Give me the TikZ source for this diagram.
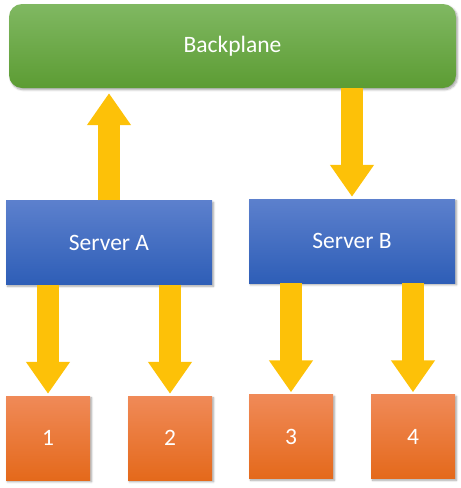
\documentclass[tikz,border=0pt]{standalone}
\usepackage{fontspec}
\setmainfont{Carlito}
\usetikzlibrary{arrows.meta,shadows.blur}
\definecolor{gtop}{HTML}{80B862}
\definecolor{gbot}{HTML}{5C9C33}
\definecolor{btop}{HTML}{5C80CD}
\definecolor{bbot}{HTML}{2E5EB7}
\definecolor{otop}{HTML}{F08A58}
\definecolor{obot}{HTML}{E4691B}
\definecolor{arrowc}{HTML}{FDC108}
\tikzset{
  boxbase/.style={inner sep=0pt, text=white, font=\fontsize{23.5}{28}\selectfont,
    blur shadow={shadow xshift=1.5pt, shadow yshift=-1.8pt, shadow blur steps=6, shadow opacity=35, shadow blur radius=2pt}},
  greenbox/.style={boxbase, rounded corners=13pt, top color=gtop, bottom color=gbot,
    minimum width=447pt, minimum height=84pt},
  bluebox/.style={boxbase, top color=btop, bottom color=bbot,
    minimum width=206pt, minimum height=84pt},
  orangebox/.style={boxbase, top color=otop, bottom color=obot,
    minimum width=84pt, minimum height=84pt},
  barrow/.style={draw=arrowc, line width=22pt,
    -{Triangle[width=42pt,length=32pt,fill=arrowc]}}
}
\begin{document}
\begin{tikzpicture}[x=1pt,y=-1pt]
\useasboundingbox (0,0) rectangle (461,488);
\node[greenbox] (bp) at (232.5,46) {Backplane};
\node[bluebox] (sa) at (109,242.5) {Server A};
\node[bluebox] (sb) at (352,241) {Server B};
\node[orangebox] (b1) at (48,438) {1};
\node[orangebox] (b2) at (170,438) {2};
\node[orangebox] (b3) at (291,436.5) {3};
\node[orangebox] (b4) at (413,436.5) {4};
\draw[barrow, shorten >=5pt] (sa.north) -- (sa.north |- bp.south);
\draw[barrow, shorten >=2pt] (sb.north |- bp.south) -- (sb.north);
\draw[barrow, shorten >=2pt] (b1.north |- sa.south) -- (b1.north);
\draw[barrow, shorten >=2pt] (b2.north |- sa.south) -- (b2.north);
\draw[barrow, shorten >=2pt] (b3.north |- sb.south) -- (b3.north);
\draw[barrow, shorten >=2pt] (b4.north |- sb.south) -- (b4.north);
\end{tikzpicture}
\end{document}
